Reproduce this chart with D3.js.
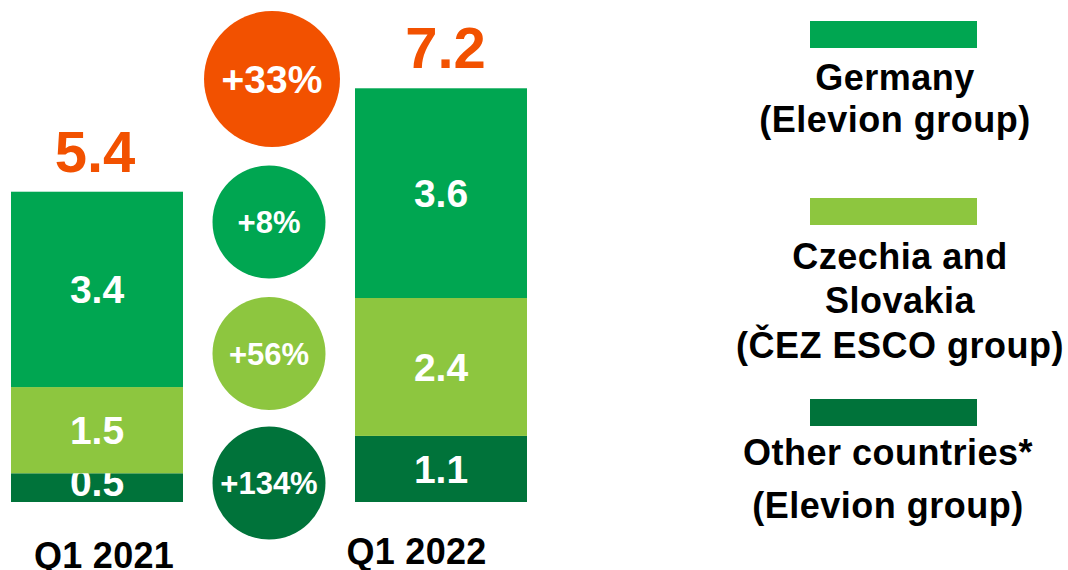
<!DOCTYPE html>
<html>
<head>
<meta charset="utf-8">
<script src="https://cdn.jsdelivr.net/npm/d3@7"></script>
<style>
  html, body { margin: 0; padding: 0; background: #fff; }
  svg { display: block; font-family: "Liberation Sans", Arial, sans-serif; font-weight: bold; }
</style>
</head>
<body>
<svg id="chart" width="1068" height="570"></svg>
<script>
// ---- data ----
const categories = ["Q1 2021", "Q1 2022"];
const seriesNames = ["Other countries* (Elevion group)", "Czechia and Slovakia (ČEZ ESCO group)", "Germany (Elevion group)"];
const otherValues = [0.5, 1.15];
const czechValues = [1.5, 2.4];
const germanyValues = [3.4, 3.65];
const otherLabels = ["0.5", "1.1"];
const czechLabels = ["1.5", "2.4"];
const germanyLabels = ["3.4", "3.6"];
const totalLabels = ["5.4", "7.2"];
const growthLabels = ["+33%", "+8%", "+56%", "+134%"];
const legendLines = [
  ["Germany", "(Elevion group)"],
  ["Czechia and", "Slovakia", "(ČEZ ESCO group)"],
  ["Other countries*", "(Elevion group)"]
];

// ---- styles / layout ----
const colors = { other: "#00733A", czech: "#8DC63F", germany: "#00A651", orange: "#F25100" };
const svg = d3.select("#chart");

const y = d3.scaleLinear().domain([0, 7.2]).range([502, 502 - 7.2 * 57.46]);
const x = d3.scaleBand().domain(categories).range([11, 527]).paddingInner(0.5).paddingOuter(0);

const rows = categories.map((c, i) => ({
  cat: c, other: otherValues[i], czech: czechValues[i], germany: germanyValues[i]
}));
const keys = ["other", "czech", "germany"];
const labelSets = { other: otherLabels, czech: czechLabels, germany: germanyLabels };
const stacked = d3.stack().keys(keys)(rows);

const layers = svg.selectAll("g.layer").data(stacked).join("g")
  .attr("class", "layer").attr("fill", d => colors[d.key]);

layers.selectAll("rect").data(d => d.map((p, i) => ({ p, i, key: d.key }))).join("rect")
  .attr("x", d => x(categories[d.i]))
  .attr("width", x.bandwidth())
  .attr("y", d => y(d.p[1]))
  .attr("height", d => y(d.p[0]) - y(d.p[1]));

// value labels in segments
const valFont = 39;
layers.selectAll("text").data(d => d.map((p, i) => ({ p, i, key: d.key }))).join("text")
  .attr("x", d => x(categories[d.i]) + x.bandwidth() / 2)
  .attr("y", d => {
    const mid = (y(d.p[0]) + y(d.p[1])) / 2;
    return Math.min(mid + valFont * 0.358, y(d.p[0]) - 6);
  })
  .attr("text-anchor", "middle")
  .attr("fill", "#fff")
  .attr("font-size", valFont)
  .text(d => labelSets[d.key][d.i]);

// totals
const totals = categories.map((c, i) => otherValues[i] + czechValues[i] + germanyValues[i]);
const totalDx = [-2, 4.5];
svg.selectAll("text.total").data(totals).join("text")
  .attr("class", "total")
  .attr("x", (d, i) => x(categories[i]) + x.bandwidth() / 2 + totalDx[i])
  .attr("y", d => y(d) - 20)
  .attr("text-anchor", "middle")
  .attr("fill", colors.orange)
  .attr("font-size", 58)
  .text((d, i) => totalLabels[i]);

// category labels
const catDx = [7, -24.5];
const catY = [567.5, 564];
svg.selectAll("text.cat").data(categories).join("text")
  .attr("class", "cat")
  .attr("x", (d, i) => x(d) + x.bandwidth() / 2 + catDx[i])
  .attr("y", (d, i) => catY[i])
  .attr("text-anchor", "middle")
  .attr("fill", "#000")
  .attr("font-size", 36)
  .attr("letter-spacing", 0.3)
  .text(d => d);

// growth bubbles
const bubbles = [
  { cx: 272, cy: 79, r: 68, fill: colors.orange, fs: 39 },
  { cx: 269, cy: 222, r: 56.5, fill: colors.germany, fs: 31 },
  { cx: 269, cy: 353.5, r: 56.5, fill: colors.czech, fs: 31 },
  { cx: 269, cy: 483, r: 56.5, fill: colors.other, fs: 31 }
];
const bg = svg.selectAll("g.bubble").data(bubbles).join("g").attr("class", "bubble");
bg.append("circle").attr("cx", d => d.cx).attr("cy", d => d.cy).attr("r", d => d.r).attr("fill", d => d.fill);
bg.append("text")
  .attr("x", d => d.cx)
  .attr("y", d => d.cy + d.fs * 0.358)
  .attr("text-anchor", "middle")
  .attr("fill", "#fff")
  .attr("font-size", d => d.fs)
  .text((d, i) => growthLabels[i]);

// legend
const legendItems = [
  { color: colors.germany, sy: 21, tx: 895, baselines: [90, 132] },
  { color: colors.czech, sy: 198, tx: 900, baselines: [269, 313, 358] },
  { color: colors.other, sy: 399, tx: 888, baselines: [465, 518] }
];
const lg = svg.selectAll("g.legend").data(legendItems).join("g").attr("class", "legend");
lg.append("rect").attr("x", 810).attr("width", 167).attr("y", d => d.sy).attr("height", 27).attr("fill", d => d.color);
lg.each(function (d, i) {
  d3.select(this).selectAll("text").data(legendLines[i]).join("text")
    .attr("x", d.tx)
    .attr("y", (t, j) => d.baselines[j])
    .attr("text-anchor", "middle")
    .attr("fill", "#000")
    .attr("font-size", 36)
    .attr("letter-spacing", 0.5)
    .text(t => t);
});
</script>
</body>
</html>
